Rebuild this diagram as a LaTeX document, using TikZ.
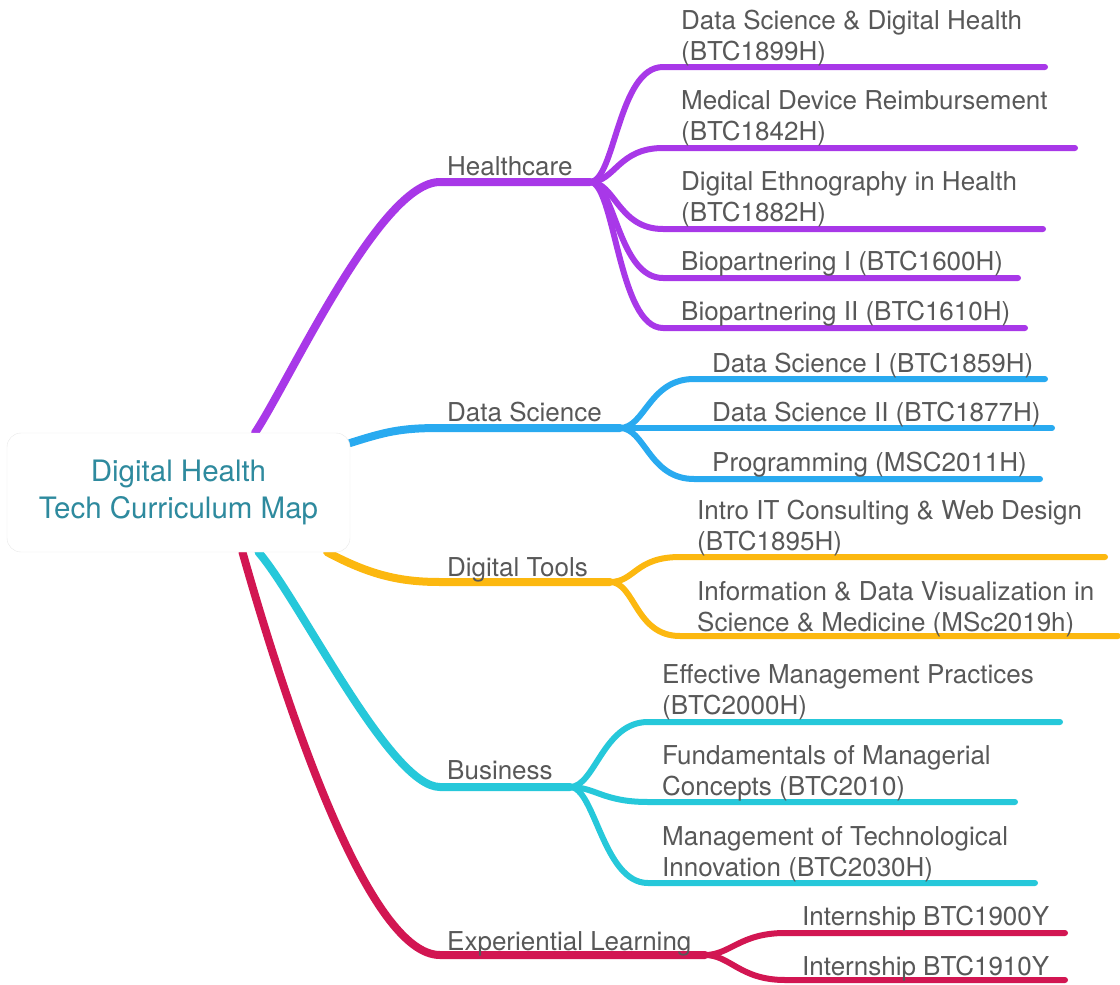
\documentclass[tikz,border=0pt]{standalone}
\usepackage{fontspec}
\setmainfont{TeX Gyre Heros}
\usetikzlibrary{calc}
\definecolor{cHC}{HTML}{A838E8}
\definecolor{cDS}{HTML}{29AAF0}
\definecolor{cDT}{HTML}{FCB810}
\definecolor{cBU}{HTML}{26C8DA}
\definecolor{cEX}{HTML}{D21652}
\definecolor{txt}{HTML}{585858}
\definecolor{roottxt}{HTML}{2E8A9E}
\pgfdeclarelayer{bg}
\pgfsetlayers{bg,main}
\newcommand\twoline[2]{\begin{tabular}[b]{@{}l@{}}#1\\#2\end{tabular}}
\tikzset{
  mainline/.style={line width=8pt, line cap=round},
  subline/.style={line width=6pt, line cap=round},
  lbl/.style={anchor=base west, inner sep=0pt, text=txt, font=\fontsize{26}{31}\selectfont},
  rootbox/.style={draw=black!9, fill=white, rounded corners=14pt, minimum width=343pt,
    minimum height=119pt, inner sep=0pt, text=roottxt, align=center,
    font=\fontsize{29.5}{37}\selectfont},
  forkto/.style={to path={.. controls +(25,0) and +(-45,0) .. (\tikztotarget)}}
}
\begin{document}
\begin{tikzpicture}[x=1pt,y=-1pt]
\useasboundingbox (0,0) rectangle (1120,985);

% root
\node[rootbox] (root) at (178.5,492.5) {Digital Health\\Tech Curriculum Map};

% branch labels
\node[lbl] (hc) at (447,175) {Healthcare};
\node[lbl] (ds) at (447,421) {Data Science};
\node[lbl] (dt) at (447,576) {Digital Tools};
\node[lbl] (bu) at (447,779) {Business};
\node[lbl] (ex) at (447,950) {Experiential Learning};

% forks
\coordinate (hcF) at (590,182);
\coordinate (dsF) at (620,428);
\coordinate (dtF) at (610,582);
\coordinate (buF) at (570,787);
\coordinate (exF) at (705,955);

% leaf labels
\node[lbl] (h1) at (681,60) {\twoline{Data Science \& Digital Health}{(BTC1899H)}};
\node[lbl] (h2) at (681,140) {\twoline{Medical Device Reimbursement}{(BTC1842H)}};
\node[lbl] (h3) at (681,221) {\twoline{Digital Ethnography in Health}{(BTC1882H)}};
\node[lbl] (h4) at (681,270) {Biopartnering I (BTC1600H)};
\node[lbl] (h5) at (681,320) {Biopartnering II (BTC1610H)};

\node[lbl] (d1) at (712,372) {Data Science I (BTC1859H)};
\node[lbl] (d2) at (712,421) {Data Science II (BTC1877H)};
\node[lbl] (d3) at (712,471) {Programming (MSC2011H)};

\node[lbl] (t1) at (697,550) {\twoline{Intro IT Consulting \& Web Design}{(BTC1895H)}};
\node[lbl] (t2) at (697,631) {\twoline{Information \& Data Visualization in}{Science \& Medicine (MSc2019h)}};

\node[lbl] (b1) at (662,714) {\twoline{Effective Management Practices}{(BTC2000H)}};
\node[lbl] (b2) at (662,795) {\twoline{Fundamentals of Managerial}{Concepts (BTC2010)}};
\node[lbl] (b3) at (662,876) {\twoline{Management of Technological}{Innovation (BTC2030H)}};

\node[lbl] (e1) at (802,925) {Internship BTC1900Y};
\node[lbl] (e2) at (802,975) {Internship BTC1910Y};

% leaf line ends
\coordinate (h1s) at (663,67);  \coordinate (h1e) at (1045,67);
\coordinate (h2s) at (663,148); \coordinate (h2e) at (1075,148);
\coordinate (h3s) at (663,229); \coordinate (h3e) at (1043,229);
\coordinate (h4s) at (663,278); \coordinate (h4e) at (1018,278);
\coordinate (h5s) at (663,328); \coordinate (h5e) at (1025,328);
\coordinate (d1s) at (694,379); \coordinate (d1e) at (1045,379);
\coordinate (d2s) at (694,428); \coordinate (d2e) at (1052,428);
\coordinate (d3s) at (694,479); \coordinate (d3e) at (1040,479);
\coordinate (t1s) at (680,557); \coordinate (t1e) at (1105,557);
\coordinate (t2s) at (680,636); \coordinate (t2e) at (1118,636);
\coordinate (b1s) at (648,722); \coordinate (b1e) at (1060,722);
\coordinate (b2s) at (648,802); \coordinate (b2e) at (1015,802);
\coordinate (b3s) at (648,883); \coordinate (b3e) at (1035,883);
\coordinate (e1s) at (785,933); \coordinate (e1e) at (1065,933);
\coordinate (e2s) at (785,980); \coordinate (e2e) at (1065,980);

\begin{pgfonlayer}{bg}
% main branches
\draw[mainline,cHC] ($(root.north)+(76.5,0)$) .. controls (290,380) and (380,182) .. (440,182) -- (hcF);
\draw[mainline,cDS] ($(root.east)+(0,-49.5)$) .. controls (385,432) and (400,428) .. (440,428) -- (dsF);
\draw[mainline,cDT] ($(root.south east)+(-23,0)$) .. controls (370,575) and (400,582) .. (440,582) -- (dtF);
\draw[mainline,cBU] ($(root.south)+(80,0)$) .. controls (300,600) and (390,787) .. (440,787) -- (buF);
\draw[mainline,cEX] ($(root.south)+(64,0)$) .. controls (290,720) and (370,955) .. (440,955) -- (exF);

% sub branches
\foreach \n in {h1,h2,h3,h4,h5} \draw[subline,cHC] (hcF) to[forkto] (\n s) -- (\n e);
\foreach \n in {d1,d2,d3} \draw[subline,cDS] (dsF) to[forkto] (\n s) -- (\n e);
\foreach \n in {t1,t2} \draw[subline,cDT] (dtF) to[forkto] (\n s) -- (\n e);
\foreach \n in {b1,b2,b3} \draw[subline,cBU] (buF) to[forkto] (\n s) -- (\n e);
\foreach \n in {e1,e2} \draw[subline,cEX] (exF) to[forkto] (\n s) -- (\n e);
\end{pgfonlayer}
\end{tikzpicture}
\end{document}
